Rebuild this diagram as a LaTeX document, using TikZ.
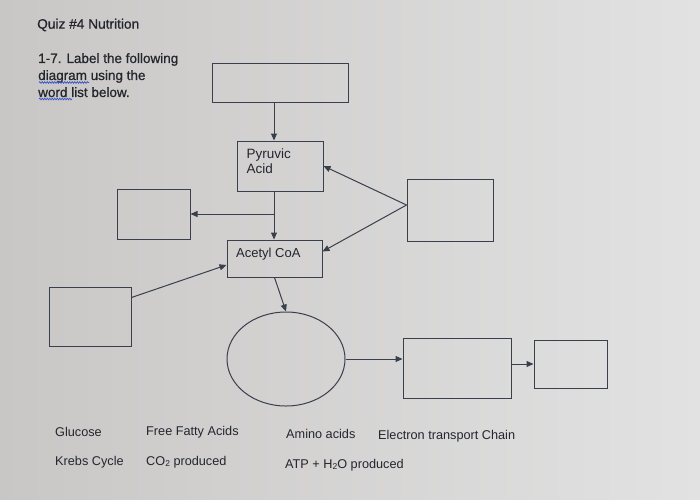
\documentclass[tikz,border=0pt]{standalone}
\usepackage{fontspec}
\setmainfont{Liberation Sans}
\newfontfamily\heavyfont[FakeBold=0.8]{Liberation Sans}
\usetikzlibrary{arrows.meta,calc,shapes.geometric,decorations.pathmorphing}
\definecolor{bgL}{HTML}{C9C7C6}
\definecolor{bgR}{HTML}{E2E2E2}
\definecolor{ink}{HTML}{3A3F4C}
\definecolor{txt}{HTML}{24262E}
\definecolor{spell}{HTML}{3A55C8}
\begin{document}
\begin{tikzpicture}[x=1pt,y=-1pt,
  box/.style={draw=ink, line width=1pt, rectangle, inner sep=0pt},
  arr/.style={draw=ink, line width=1pt, -{Triangle[length=7pt,width=6pt]}},
  lbl/.style={text=txt, inner sep=0pt, anchor=west, font=\fontsize{13}{15}\selectfont},
  word/.style={text=txt, inner sep=0pt, anchor=west, font=\fontsize{12.7}{14}\selectfont},
  wavy/.style={draw=spell, line width=0.7pt, decorate, decoration={snake, amplitude=0.8pt, segment length=2.5pt}}
]
\useasboundingbox (0,0) rectangle (700,499);
\shade[left color=bgL, right color=bgR] (0,0) rectangle (700,499);

% header texts
\node[lbl, font=\heavyfont\fontsize{13.7}{15}\selectfont] (title) at (37,25) {Quiz \#4 Nutrition};
\node[lbl, anchor=north west, align=left, font=\heavyfont\fontsize{13.5}{17}\selectfont] (instr) at (38,53) {1-7. Label the following\\diagram using the\\word list below.};
\coordinate (w1a) at (39,82.5);
\coordinate (w1b) at (89,82.5);
\coordinate (w2a) at (39,99);
\coordinate (w2b) at (72,99);
\draw[wavy] (w1a) -- (w1b);
\draw[wavy] (w2a) -- (w2b);

% boxes
\node[box, minimum width=136pt, minimum height=39pt] (top) at (280,82.5) {};
\node[box, minimum width=86pt, minimum height=50pt] (pyr) at (280,166) {};
\node[lbl, anchor=north west, align=left, font=\fontsize{13.5}{15}\selectfont] (pyrt) at ([shift={(10,8)}]pyr.north west) {Pyruvic\\Acid};
\node[box, minimum width=73pt, minimum height=50pt] (lb) at (153.5,214) {};
\node[box, minimum width=95pt, minimum height=37pt] (ac) at (274.5,258.5) {};
\node[lbl] (act) at (236,254) {Acetyl CoA};
\node[box, minimum width=86pt, minimum height=62pt] (rb) at (450,210) {};
\node[box, minimum width=82pt, minimum height=59pt] (ll) at (90,316.5) {};
\node[draw=ink, line width=1pt, ellipse, inner sep=0pt, minimum width=118pt, minimum height=94pt] (el) at (286,359) {};
\node[box, minimum width=108pt, minimum height=60pt] (b5) at (457,368) {};
\node[box, minimum width=73pt, minimum height=48pt] (b6) at (570.5,364) {};

% connectors
\coordinate (ax) at (274,0);
\draw[arr] (top.south -| ax) -- (pyr.north -| ax);
\draw[arr] (pyr.south -| ax) -- (ac.north -| ax);
\draw[arr] (ax |- lb.east) -- (lb.east);
\draw[arr] ($(rb.west)+(0,-5)$) -- (pyr.east);
\draw[arr] ($(rb.west)+(0,-5)$) -- ($(ac.east)+(0,-7)$);
\draw[arr] ($(ll.north east)+(0,11)$) -- ($(ac.west)+(0,6.5)$);
\draw[arr] (ac.south) -- (el.north);
\draw[arr] (el.east) -- (el.east -| b5.west);
\draw[arr] (b6.west -| b5.east) -- (b6.west);

% word list
\node[word] (w1) at (55,432) {Glucose};
\node[word] (w2) at (146,432) {Free Fatty Acids};
\node[word] (w3) at (286,434) {Amino acids};
\node[word] (w4) at (378,436) {Electron transport Chain};
\node[word] (w5) at (55,462) {Krebs Cycle};
\node[word] (w6) at (146,462) {CO\raisebox{-0.2ex}{\fontsize{8.5}{9}\selectfont 2} produced};
\node[word] (w7) at (285,465) {ATP + H\raisebox{-0.2ex}{\fontsize{8.5}{9}\selectfont 2}O produced};
\end{tikzpicture}
\end{document}
